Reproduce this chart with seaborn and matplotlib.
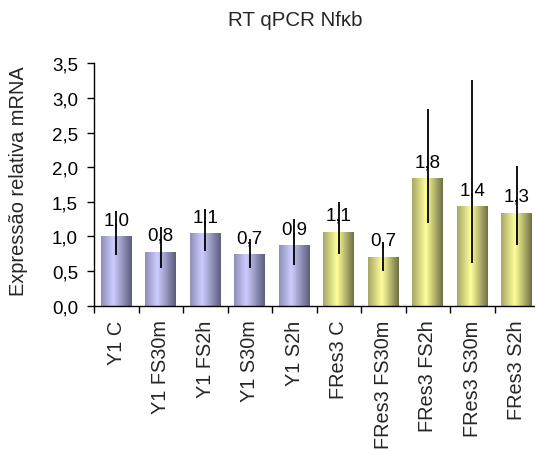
import numpy as np
import pandas as pd
import matplotlib
matplotlib.use("Agg")
import matplotlib.pyplot as plt
from matplotlib.colors import LinearSegmentedColormap
import seaborn as sns

# Relative mRNA expression of Nfkb (RT qPCR)
categories = ["Y1 C", "Y1 FS30m", "Y1 FS2h", "Y1 S30m", "Y1 S2h",
              "FRes3 C", "FRes3 FS30m", "FRes3 FS2h", "FRes3 S30m", "FRes3 S2h"]
groups = ["Y1"] * 5 + ["FRes3"] * 5
expression = [1.00, 0.78, 1.05, 0.74, 0.87, 1.07, 0.71, 1.84, 1.44, 1.34]
err_upper = [1.37, 1.13, 1.40, 0.96, 1.25, 1.50, 0.915, 2.84, 3.26, 2.01]
err_lower = [0.73, 0.54, 0.785, 0.54, 0.59, 0.746, 0.497, 1.19, 0.61, 0.88]
y_ticks = [0.0, 0.5, 1.0, 1.5, 2.0, 2.5, 3.0, 3.5]

df = pd.DataFrame({"amostra": categories, "grupo": groups, "expr": expression})

sns.set_style("white")
plt.rcParams["font.family"] = ["Liberation Sans", "DejaVu Sans"]

fig = plt.figure(figsize=(5.35, 4.52), dpi=100)
ax = fig.add_axes([94 / 535, 1 - 306.7 / 452, 445 / 535, (306.7 - 64.3) / 452])

sns.barplot(data=df, x="amostra", y="expr", hue="grupo", dodge=False,
            width=0.69, legend=False, ax=ax,
            palette={"Y1": "#ccccff", "FRes3": "#ffff99"})

# Horizontal shaded fill for each bar
gradients = {
    "Y1": LinearSegmentedColormap.from_list(
        "y1", [(0.0, "#8e8eba"), (0.4, "#ccccff"), (1.0, "#5c5c7a")]),
    "FRes3": LinearSegmentedColormap.from_list(
        "fres3", [(0.0, "#a6a666"), (0.45, "#ffff99"), (1.0, "#6e6e44")]),
}
ramp = np.linspace(0, 1, 256).reshape(1, -1)
for patch in list(ax.patches):
    x0, y0 = patch.get_x(), patch.get_y()
    w, h = patch.get_width(), patch.get_height()
    if h <= 0:
        continue
    idx = int(round(x0 + w / 2))
    im = ax.imshow(ramp, cmap=gradients[groups[idx]], aspect="auto",
                   extent=[x0, x0 + w, y0, y0 + h], zorder=2,
                   interpolation="bicubic")
    im.set_clip_path(patch)
    patch.set_facecolor("none")
    patch.set_edgecolor("none")

# Value labels (drawn beneath the error lines)
for i, v in enumerate(expression):
    ax.annotate(f"{v:.1f}".replace(".", ","), (i, v), xytext=(0, 8.6),
                textcoords="offset points", ha="center", va="baseline",
                fontsize=13.5, color="black", zorder=3)

# Error lines without caps
ax.vlines(range(len(categories)), err_lower, err_upper,
          color="black", linewidth=1.3, zorder=5)

ax.set_xlim(-0.5, len(categories) - 0.5)
ax.set_ylim(0, 3.5)
ax.set_yticks(y_ticks)
ax.set_yticklabels([f"{t:.1f}".replace(".", ",") for t in y_ticks], fontsize=13.5)
ax.tick_params(axis="y", direction="out", length=5, width=1, left=True,
               pad=6.5, colors="black")

# Category labels at centers, tick marks at category boundaries
ax.set_xticks(range(len(categories)))
ax.set_xticklabels(categories, rotation=90, fontsize=14.3, va="top")
ax.tick_params(axis="x", which="major", length=0, pad=10)
ax.set_xticks(np.arange(-0.5, len(categories)), minor=True)
ax.tick_params(axis="x", which="minor", direction="out", length=5, width=1,
               bottom=True, color="black")

ax.set_xlabel("")
ax.set_ylabel("")
for side in ("top", "right"):
    ax.spines[side].set_visible(False)
for side in ("left", "bottom"):
    ax.spines[side].set_color("black")
    ax.spines[side].set_linewidth(1.0)

fig.text(18.5 / 535, 1 - 181.5 / 452, "Expressão relativa mRNA", rotation=90,
         ha="center", va="center", fontsize=14.4)
fig.text(295.5 / 535, 1 - 21 / 452, "RT qPCR Nfκb", ha="center", va="center",
         fontsize=14.8)

fig.savefig("out.png", dpi=100, facecolor="white")
